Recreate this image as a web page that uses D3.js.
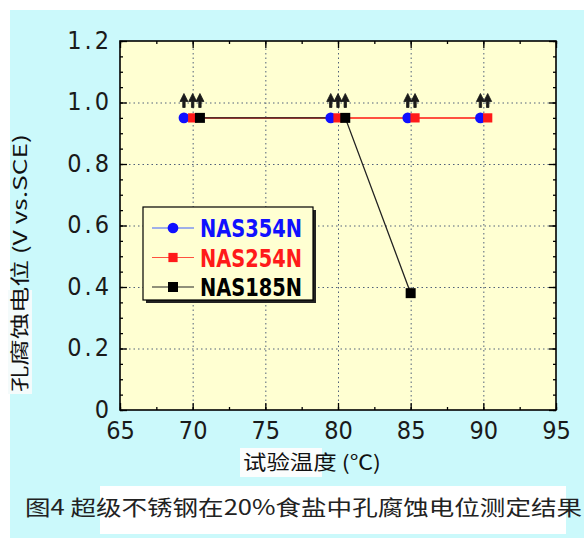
<!DOCTYPE html>
<html>
<head>
<meta charset="utf-8">
<script src="https://cdn.jsdelivr.net/npm/d3@7"></script>
<style>
  body { margin: 0; background: #fff; }
  svg { display: block; }
</style>
</head>
<body>
<svg width="584" height="542"></svg>
<script>
// data
var seriesNames = ["NAS354N", "NAS254N", "NAS185N"];
var temps354 = [69.4, 79.5, 84.8, 89.8];
var pots354  = [0.95, 0.95, 0.95, 0.95];
var temps254 = [70, 80, 85.3, 90.3];
var pots254  = [0.95, 0.95, 0.95, 0.95];
var temps185 = [70.5, 80.5, 85];
var pots185  = [0.95, 0.95, 0.38];
// points where no pitting occurred (arrow drawn above)
var noPit354 = [true, true, true, true];
var noPit254 = [true, true, true, true];
var noPit185 = [true, true, false];

var xTicks = [65, 70, 75, 80, 85, 90, 95];
var yTicks = [0, 0.2, 0.4, 0.6, 0.8, 1.0, 1.2];

var colors = ["#1010ff", "#ff1a1a", "#000000"];

var svg = d3.select("svg");
var margin = {left: 120, top: 41, right: 28, bottom: 132};
var w = 584 - margin.left - margin.right,
    h = 542 - margin.top - margin.bottom;

// backgrounds
svg.append("rect").attr("x", 10).attr("y", 10).attr("width", 574).attr("height", 528)
    .attr("fill", "#cbf9fb");
svg.append("rect").attr("x", 100).attr("y", 486).attr("width", 466).attr("height", 48)
    .attr("fill", "#ffffff");
svg.append("rect").attr("x", 240).attr("y", 448).attr("width", 82).attr("height", 29)
    .attr("fill", "#fbfdfd");
svg.append("rect").attr("x", 8).attr("y", 290).attr("width", 24).attr("height", 104)
    .attr("fill", "#f4fbfb");

var g = svg.append("g").attr("transform", "translate(" + margin.left + "," + margin.top + ")");

var xScale = d3.scaleLinear().domain([65, 95]).range([0, w]);
var yScale = d3.scaleLinear().domain([0, 1.2]).range([h, 0]);

g.append("rect").attr("width", w).attr("height", h).attr("fill", "#ffffd2");

// grid
g.append("g").attr("class", "grid")
    .attr("transform", "translate(0," + h + ")")
    .call(d3.axisBottom(xScale).tickValues(xTicks.slice(1, -1)).tickSize(-h).tickFormat(""));
g.append("g").attr("class", "grid")
    .call(d3.axisLeft(yScale).tickValues(yTicks.slice(1, -1)).tickSize(-w).tickFormat(""));
g.selectAll(".grid .domain").remove();
g.selectAll(".grid line").attr("stroke", "#50607a").attr("stroke-dasharray", "1.5,3");

// minor ticks
var xMinor = d3.range(65, 95.01, 2.5);
var yMinor = d3.range(0, 1.2001, 0.05);
g.append("g").attr("transform", "translate(0," + h + ")")
    .call(d3.axisBottom(xScale).tickValues(xMinor).tickSize(-3).tickFormat(""));
g.append("g").call(d3.axisTop(xScale).tickValues(xMinor).tickSize(-3).tickFormat(""));
g.append("g").call(d3.axisLeft(yScale).tickValues(yMinor).tickSize(-3).tickFormat(""));
g.append("g").attr("transform", "translate(" + w + ",0)")
    .call(d3.axisRight(yScale).tickValues(yMinor).tickSize(-3).tickFormat(""));

// major ticks + labels
var xAxis = g.append("g").attr("class", "axis").attr("transform", "translate(0," + h + ")")
    .call(d3.axisBottom(xScale).tickValues(xTicks).tickSize(-7).tickPadding(11));
var yAxis = g.append("g").attr("class", "axis")
    .call(d3.axisLeft(yScale).tickValues(yTicks).tickSize(-7).tickPadding(8)
        .tickFormat(function(d) { return d === 0 ? "0" : d3.format(".1f")(d); }));
g.append("g").call(d3.axisTop(xScale).tickValues(xTicks).tickSize(-7).tickFormat(""));
g.append("g").attr("transform", "translate(" + w + ",0)")
    .call(d3.axisRight(yScale).tickValues(yTicks).tickSize(-7).tickFormat(""));

g.selectAll(".domain").remove();
g.selectAll(".tick line").filter(function() { return this.parentNode.parentNode.getAttribute("class") !== "grid"; })
    .attr("stroke", "#000").attr("stroke-width", 1.3);

xAxis.selectAll("text").attr("font-family", "'Liberation Sans Narrow', 'DejaVu Sans Condensed', sans-serif")
    .attr("font-size", 25).attr("fill", "#1a1a1a");
yAxis.selectAll("text").attr("font-family", "'Liberation Sans Narrow', 'DejaVu Sans Condensed', sans-serif")
    .attr("font-size", 25).attr("fill", "#1a1a1a").attr("dy", "0.28em")
    .attr("letter-spacing", 3);

// frame
g.append("rect").attr("width", w).attr("height", h).attr("fill", "none")
    .attr("stroke", "#000").attr("stroke-width", 1.6);

// series
var series = [
    {name: seriesNames[0], t: temps354, v: pots354, np: noPit354, color: colors[0], shape: "circle"},
    {name: seriesNames[1], t: temps254, v: pots254, np: noPit254, color: colors[1], shape: "square"},
    {name: seriesNames[2], t: temps185, v: pots185, np: noPit185, color: colors[2], shape: "square"}
];
series.forEach(function(s) {
    s.points = s.t.map(function(t, i) { return {t: t, v: s.v[i], np: s.np[i]}; });
});

var line = d3.line()
    .x(function(d) { return xScale(d.t); })
    .y(function(d) { return yScale(d.v); });

var lineWidths = [1, 2, 1.3];
var lineColors = ["#4060ff", "#ff5040", "#222"];

series.forEach(function(s, i) {
    g.append("path").datum(s.points).attr("d", line)
        .attr("fill", "none").attr("stroke", lineColors[i]).attr("stroke-width", lineWidths[i]);
});

var markerSize = [90, 85, 100];
series.forEach(function(s, i) {
    var sym = d3.symbol().type(s.shape === "circle" ? d3.symbolCircle : d3.symbolSquare).size(markerSize[i]);
    g.selectAll(".m" + i).data(s.points).enter().append("path")
        .attr("transform", function(d) { return "translate(" + xScale(d.t) + "," + yScale(d.v) + ")"; })
        .attr("d", sym).attr("fill", s.color);
});

// arrows above the points (no pitting within range)
var arrowPath = "M0,-9 L-4,-1 L-1.2,-1 L-1.2,5 L1.2,5 L1.2,-1 L4,-1 Z";
series.forEach(function(s, i) {
    g.selectAll(".a" + i).data(s.points.filter(function(d) { return d.np; })).enter().append("path")
        .attr("transform", function(d) { return "translate(" + xScale(d.t) + "," + yScale(1.0) + ")"; })
        .attr("d", arrowPath).attr("fill", "#1a1a1a")
        .attr("stroke", "#1a1a1a").attr("stroke-width", 0.8).attr("stroke-linejoin", "round");
});

// legend
var lg = svg.append("g").attr("transform", "translate(143,207)");
lg.append("rect").attr("x", 3).attr("y", 3).attr("width", 170).attr("height", 93).attr("fill", "#222");
lg.append("rect").attr("width", 170).attr("height", 93).attr("fill", "#ffffd2")
    .attr("stroke", "#000").attr("stroke-width", 1.2);
series.forEach(function(s, i) {
    var yy = 21 + i * 29.5;
    lg.append("line").attr("x1", 9).attr("x2", 51).attr("y1", yy).attr("y2", yy)
        .attr("stroke", lineColors[i]).attr("stroke-width", 1.2);
    var sym = d3.symbol().type(s.shape === "circle" ? d3.symbolCircle : d3.symbolSquare).size(markerSize[i]);
    lg.append("path").attr("transform", "translate(30," + yy + ")").attr("d", sym).attr("fill", s.color);
    lg.append("text").attr("x", 57).attr("y", yy).attr("dy", "0.36em")
        .attr("font-family", "'Liberation Sans Narrow', 'DejaVu Sans Condensed', sans-serif")
        .attr("font-weight", "bold").attr("font-size", 25)
        .attr("textLength", 102).attr("lengthAdjust", "spacingAndGlyphs")
        .attr("fill", s.color).text(s.name);
});

// axis titles
svg.append("text").attr("x", 243).attr("y", 470)
    .attr("font-family", "'Noto Sans CJK SC', sans-serif").attr("font-size", 20).attr("fill", "#111")
    .attr("textLength", 138).attr("lengthAdjust", "spacingAndGlyphs")
    .text("试验温度 (℃)");

svg.append("text").attr("transform", "translate(27,392) rotate(-90)")
    .attr("font-family", "'Noto Sans CJK SC', sans-serif").attr("font-size", 19).attr("fill", "#111")
    .attr("textLength", 258).attr("lengthAdjust", "spacingAndGlyphs")
    .text("孔腐蚀电位 (V vs.SCE)");

// caption
svg.append("text").attr("x", 25).attr("y", 515)
    .attr("font-family", "'Noto Sans CJK SC', sans-serif").attr("font-size", 21).attr("fill", "#222")
    .attr("textLength", 557).attr("lengthAdjust", "spacingAndGlyphs")
    .text("图4 超级不锈钢在20%食盐中孔腐蚀电位测定结果");
</script>
</body>
</html>
